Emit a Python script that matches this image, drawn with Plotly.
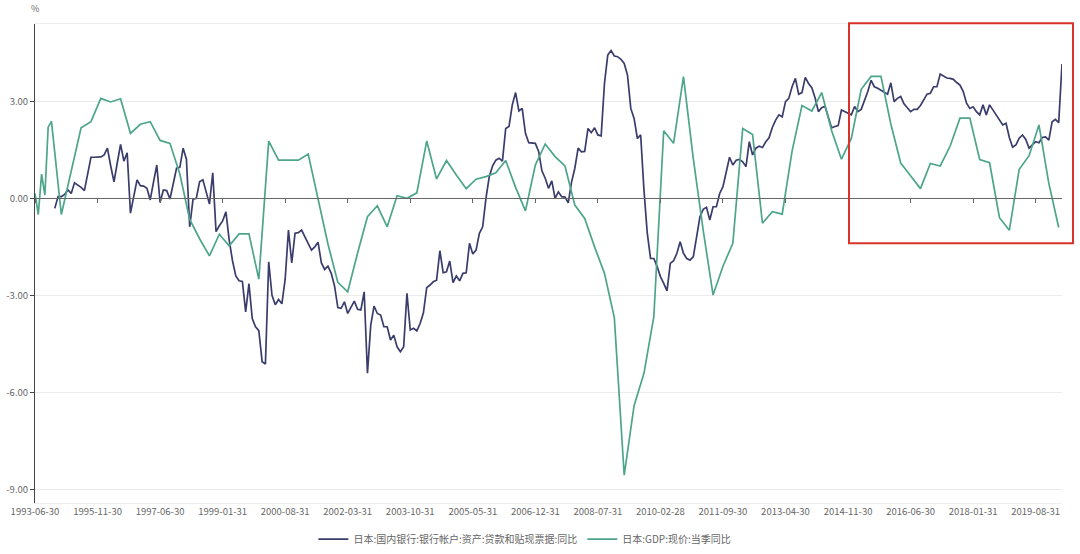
import calendar
import plotly.graph_objects as go

# ---------------- data ----------------
early_quarters = ["1993-06-30", "1993-09-30", "1993-12-31", "1994-03-31", "1994-06-30"]
monthly_start = (1994, 9)
monthly_end = (2020, 4)

tick_labels = ["1993-06-30", "1995-11-30", "1997-06-30", "1999-01-31", "2000-08-31",
               "2002-03-31", "2003-10-31", "2005-05-31", "2006-12-31", "2008-07-31",
               "2010-02-28", "2011-09-30", "2013-04-30", "2014-11-30", "2016-06-30",
               "2018-01-31", "2019-08-31"]
y_ticks = [-9, -6, -3, 0, 3]
y_tick_text = ["-9.00", "-6.00", "-3.00", "0.00", "3.00"]

loan_name = "日本:国内银行:银行帐户:资产:贷款和贴现票据:同比"
gdp_name = "日本:GDP:现价:当季同比"

# monthly, starting 1994-10
loan_yoy = [
    -0.31, 0.05, 0.05, 0.12, 0.26, 0.15, 0.48, 0.41, 0.34, 0.24,
    0.76, 1.27, 1.27, 1.27, 1.28, 1.34, 1.55, 1.0, 0.51, 1.1,
    1.67, 1.15, 1.41, -0.46, 0.1, 0.57, 0.39, 0.38, 0.31, -0.05,
    0.5, 1.03, -0.13, 0.26, 0.24, -0.02, 0.45, 0.93, 0.96, 1.55,
    1.21, -0.88, -0.03, 0.0, 0.51, 0.57, 0.2, -0.18, 0.79, -1.03,
    -0.85, -0.7, -0.42, -1.29, -1.93, -2.4, -2.55, -2.57, -3.51, -2.64,
    -3.72, -3.97, -4.09, -5.05, -5.12, -1.96, -3.0, -3.29, -3.13, -3.26,
    -2.5, -0.98, -2.0, -1.08, -1.06, -0.98, -1.19, -1.41, -1.6, -1.5,
    -1.36, -2.0, -2.2, -2.1, -2.32, -2.71, -3.38, -3.4, -3.2, -3.56,
    -3.35, -3.18, -3.43, -3.45, -2.89, -5.41, -3.92, -3.33, -3.56, -3.61,
    -3.97, -3.97, -4.38, -4.23, -4.59, -4.74, -4.59, -2.94, -4.07, -4.02,
    -4.1, -3.87, -3.54, -2.76, -2.68, -2.58, -2.53, -1.62, -2.3, -2.27,
    -1.94, -2.61, -2.4, -2.55, -2.32, -2.3, -1.39, -1.72, -1.6, -1.08,
    -0.88, 0.0, 0.67, 1.0, 1.18, 1.24, 1.15, 2.16, 2.22, 2.89,
    3.27, 2.7, 2.78, 2.01, 1.72, 1.72, 1.7, 1.45, 0.85, 0.62,
    0.31, 0.54, 0.0, 0.2, 0.05, 0.04, -0.14, 0.5, 0.93, 1.55,
    1.44, 1.45, 2.16, 2.03, 2.18, 1.96, 1.93, 3.55, 4.43, 4.57,
    4.4, 4.38, 4.3, 4.17, 3.81, 2.78, 2.47, 1.85, 1.96, 0.26,
    -1.07, -1.86, -1.86, -2.11, -2.42, -2.63, -2.86, -2.01, -1.93, -1.7,
    -1.34, -1.7, -1.86, -1.91, -1.8, -1.19, -0.57, -0.34, -0.28, -0.67,
    -0.26, -0.26, 0.15, 0.36, 0.77, 1.27, 1.03, 1.18, 1.2, 1.13,
    0.98, 1.75, 1.34, 1.55, 1.61, 1.57, 1.75, 1.87, 2.19, 2.42,
    2.58, 2.52, 2.99, 3.09, 3.45, 3.71, 3.22, 3.27, 3.74, 3.55,
    3.42, 3.1, 2.68, 2.8, 2.85, 2.5, 2.18, 2.22, 2.25, 2.73,
    2.68, 2.63, 2.58, 2.84, 2.68, 2.75, 3.0, 3.3, 3.65, 3.45,
    3.4, 3.35, 3.28, 3.22, 3.57, 2.99, 3.09, 3.15, 2.92, 2.8,
    2.68, 2.75, 2.75, 2.87, 3.04, 3.22, 3.25, 3.45, 3.45, 3.84,
    3.78, 3.72, 3.71, 3.68, 3.58, 3.5, 3.3, 2.94, 2.78, 2.83,
    2.68, 2.58, 2.89, 2.58, 2.89, 2.73, 2.58, 2.42, 2.27, 2.32,
    1.88, 1.58, 1.65, 1.86, 1.96, 1.82, 1.55, 1.65, 1.75, 1.72,
    1.88, 1.9, 1.8, 2.37, 2.44, 2.34, 4.15,
]

# quarterly, starting 1993-06
gdp_yoy = [
    0.15, -0.5, 0.75, 0.1, 2.2,
    2.38, -0.5, 0.8, 2.18, 2.37,
    3.09, 2.98, 3.08, 2.01, 2.29,
    2.37, 1.79, 1.7, 0.75, -0.65,
    -1.25, -1.78, -1.11, -1.47, -1.1,
    -1.1, -2.5, 1.77, 1.18, 1.18,
    1.18, 1.37, -0.04, -1.41, -2.6,
    -2.89, -1.69, -0.57, -0.23, -0.88,
    0.08, 0.0, 0.17, 1.77, 0.6,
    1.17, 0.72, 0.3, 0.59, 0.67,
    0.79, 1.17, 0.34, -0.39, 1.03,
    1.68, 1.29, 1.0, -0.21, -0.62,
    -1.5, -2.32, -3.69, -8.56, -6.41,
    -5.41, -3.66, 2.09, 1.7, 3.76,
    1.22, -0.99, -2.99, -2.1, -1.39,
    2.16, 1.97, -0.77, -0.41, -0.49,
    1.46, 2.87, 2.7, 3.27, 2.1,
    1.21, 1.85, 3.37, 3.77, 3.77,
    2.3, 1.09, 0.7, 0.3, 1.08,
    1.0, 1.61, 2.48, 2.48, 1.2,
    1.1, -0.6, -0.99, 0.9, 1.32,
    2.27, 0.46, -0.9,
]

# ---------------- category axis ----------------
def month_end(y, m):
    return f"{y:04d}-{m:02d}-{calendar.monthrange(y, m)[1]:02d}"

monthly = []
y, m = monthly_start
while (y, m) <= monthly_end:
    monthly.append(month_end(y, m))
    m += 1
    if m > 12:
        m, y = 1, y + 1

categories = early_quarters + monthly
loan_x = monthly[1:1 + len(loan_yoy)]
gdp_x = (early_quarters + monthly[0::3])[:len(gdp_yoy)]

y_min, y_max = -9.42, 5.39
zero_pos = (0 - y_min) / (y_max - y_min)

LOAN_COLOR = "#3a3c6c"
GDP_COLOR = "#4da58b"
FONT = "Noto Sans CJK SC, Microsoft YaHei, sans-serif"

fig = go.Figure()
fig.add_trace(go.Scatter(x=loan_x, y=loan_yoy, mode="lines", name=loan_name,
                         line=dict(color=LOAN_COLOR, width=1.7)))
fig.add_trace(go.Scatter(x=gdp_x, y=gdp_yoy, mode="lines", name=gdp_name,
                         line=dict(color=GDP_COLOR, width=1.7)))
# helper trace so the zero-line axis (with its ticks) is drawn
fig.add_trace(go.Scatter(x=[categories[0]], y=[None], xaxis="x2", mode="lines",
                         showlegend=False, hoverinfo="skip"))

cat_range = [0, len(categories) - 1]
fig.update_layout(
    width=1080, height=554,
    margin=dict(l=35, r=18, t=24, b=51, autoexpand=False),
    plot_bgcolor="white", paper_bgcolor="white",
    font=dict(family=FONT, size=10, color="#666"),
    xaxis=dict(type="category", categoryorder="array", categoryarray=categories,
               range=cat_range, tickvals=tick_labels, ticktext=tick_labels,
               ticks="", showgrid=False, zeroline=False, automargin=False,
               showline=True, linecolor="#eeeeee", linewidth=1, mirror=True,
               tickfont=dict(size=9.5, color="#666")),
    xaxis2=dict(type="category", categoryorder="array", categoryarray=categories,
                overlaying="x", anchor="free", position=zero_pos, side="bottom",
                range=cat_range, tickvals=tick_labels, showticklabels=False,
                ticks="outside", ticklen=4, tickcolor="#666", tickwidth=1,
                showline=True, linecolor="#666", linewidth=1, automargin=False,
                showgrid=False, zeroline=False),
    yaxis=dict(range=[y_min, y_max], tickvals=y_ticks, ticktext=y_tick_text,
               showgrid=True, gridcolor="#ececec", gridwidth=1, zeroline=False,
               showline=True, linecolor="#444", linewidth=1, automargin=False,
               ticks="outside", ticklen=4, tickcolor="#444",
               tickfont=dict(size=9.5, color="#666")),
    legend=dict(orientation="h", xref="container", yref="container",
                x=0.486, xanchor="center", y=0.027, yanchor="middle",
                font=dict(size=10, color="#666"), itemwidth=30,
                bgcolor="rgba(0,0,0,0)"),
    showlegend=True,
)

fig.add_annotation(text="%", xref="paper", yref="paper", x=0, y=1.0334,
                   xanchor="center", yanchor="middle", showarrow=False,
                   font=dict(size=9, color="#666"))

fig.add_shape(type="rect", xref="paper", yref="paper",
              x0=0.7926, x1=1.0107, y0=0.5422, y1=1.0015,
              line=dict(color="#d8322b", width=2), fillcolor="rgba(0,0,0,0)")

fig.write_html("out.html", config={"displayModeBar": False},
               post_script="document.body.style.margin='0';")
